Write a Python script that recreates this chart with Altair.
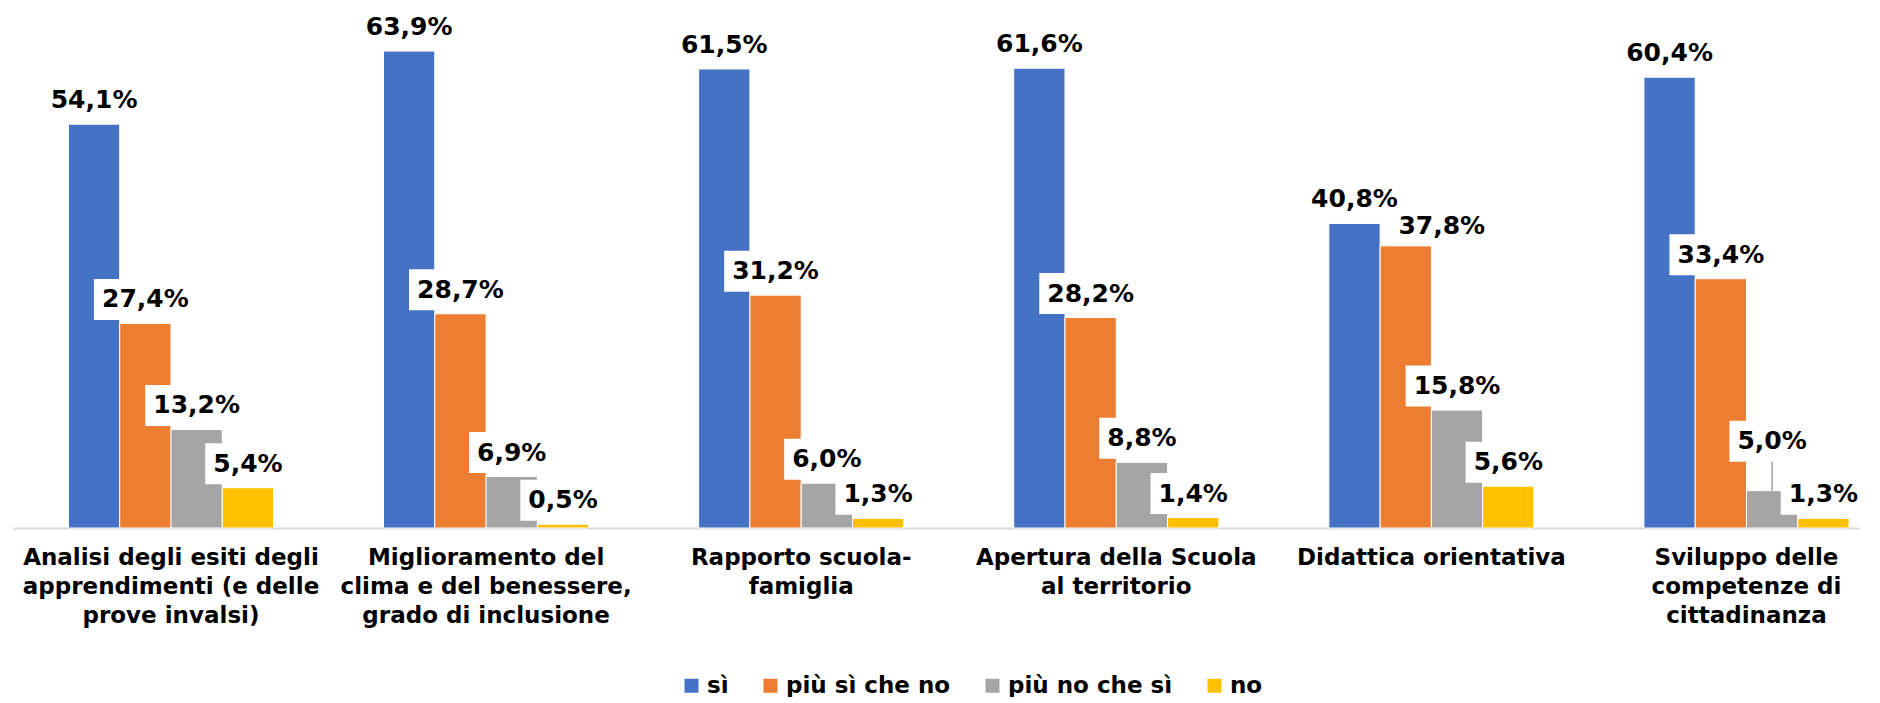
import altair as alt
import pandas as pd

categories = [
    "Analisi degli esiti degli\napprendimenti (e delle\nprove invalsi)",
    "Miglioramento del\nclima e del benessere,\ngrado di inclusione",
    "Rapporto scuola-\nfamiglia",
    "Apertura della Scuola\nal territorio",
    "Didattica orientativa",
    "Sviluppo delle\ncompetenze di\ncittadinanza",
]
series = ["sì", "più sì che no", "più no che sì", "no"]
val_si = [54.1, 63.9, 61.5, 61.6, 40.8, 60.4]
val_piu_si = [27.4, 28.7, 31.2, 28.2, 37.8, 33.4]
val_piu_no = [13.2, 6.9, 6.0, 8.8, 15.8, 5.0]
val_no = [5.4, 0.5, 1.3, 1.4, 5.6, 1.3]
colors = ["#4472C4", "#ED7D31", "#A5A5A5", "#FFC000"]

# labels that the original moved: (lift in data units, shift right in px)
label_adjust = {(5, "più no che sì"): (3.4, 0), (4, "più sì che no"): (-0.5, 36)}

FS = 25
rows = []
for s, vals in zip(series, [val_si, val_piu_si, val_piu_no, val_no]):
    for i, (c, v) in enumerate(zip(categories, vals)):
        lab = f"{v:.1f}%".replace(".", ",")
        nd = sum(ch.isdigit() for ch in lab)
        tw = (nd * 0.696 + 0.38 + 1.002) * FS
        hw = tw / 2 + 8
        hh = 20.5
        lift, shift = label_adjust.get((i, s), (0.0, 0))
        l, r = shift - hw, shift + hw
        path = f"M{l:.1f},{-hh}H{r:.1f}V{hh}H{l:.1f}Z"
        rows.append(dict(cat=c, series=s, value=v, label=lab,
                         label_pos=v + lift, lift=lift, shift=shift, box=path))
df = pd.DataFrame(rows)

xenc = alt.X(
    "cat:N", sort=categories,
    scale=alt.Scale(paddingInner=0.349, paddingOuter=0.1037, align=0.848),
    axis=alt.Axis(title=None, labelAngle=0,
                  labelExpr="split(datum.label, '\\n')",
                  labelFont="DejaVu Sans", labelFontWeight="bold",
                  labelFontSize=23, labelColor="black", labelLineHeight=29,
                  labelPadding=18, ticks=False, domainColor="#D9D9D9",
                  domainWidth=2, labelLimit=500, labelOverlap=False,
                  labelBound=False),
)
xoff = alt.XOffset("series:N", sort=series,
                   scale=alt.Scale(paddingInner=0, paddingOuter=0))
yscale = alt.Scale(domain=[0, 69])

base = alt.Chart(df).encode(x=xenc, xOffset=xoff)

bars = base.mark_bar(stroke="white", strokeWidth=1).encode(
    y=alt.Y("value:Q", scale=yscale, axis=None),
    color=alt.Color(
        "series:N", sort=series,
        scale=alt.Scale(domain=series, range=colors),
        legend=alt.Legend(
            title=None, orient="none", legendX=667, legendY=661,
            direction="horizontal", symbolType="square", symbolSize=196,
            symbolStrokeWidth=0, labelFont="DejaVu Sans",
            labelFontWeight="bold", labelFontSize=23, labelColor="black",
            labelOffset=4, columnPadding=30, labelLimit=400,
        ),
    ),
)

leader = base.mark_rule(color="#A5A5A5", strokeWidth=1.5, y2Offset=-5).encode(
    y=alt.Y("value:Q", scale=yscale, axis=None),
    y2="label_pos:Q",
).transform_filter("datum.lift > 0")

boxes = base.mark_point(filled=True, color="white", opacity=1, size=4,
                        yOffset=-24, strokeWidth=0).encode(
    y=alt.Y("label_pos:Q", scale=yscale, axis=None),
    shape=alt.Shape("box:N", scale=None, legend=None),
)


def text_layer(cond, dx):
    return base.mark_text(dy=-24, dx=dx, fontSize=FS, font="DejaVu Sans",
                          fontWeight="bold", baseline="middle",
                          color="black").encode(
        y=alt.Y("label_pos:Q", scale=yscale, axis=None),
        text="label:N",
    ).transform_filter(cond)


t0 = text_layer("datum.shift == 0", 0)
t1 = text_layer("datum.shift != 0", 36)

chart = alt.layer(bars, leader, boxes, t0, t1).properties(
    width=1846, height=515,
    autosize=alt.AutoSizeParams(type="none"),
    padding={"left": 5, "top": 5, "right": 10, "bottom": 169},
).configure_view(stroke=None)

chart.save("out.html", embed_options={"renderer": "svg", "actions": False})
